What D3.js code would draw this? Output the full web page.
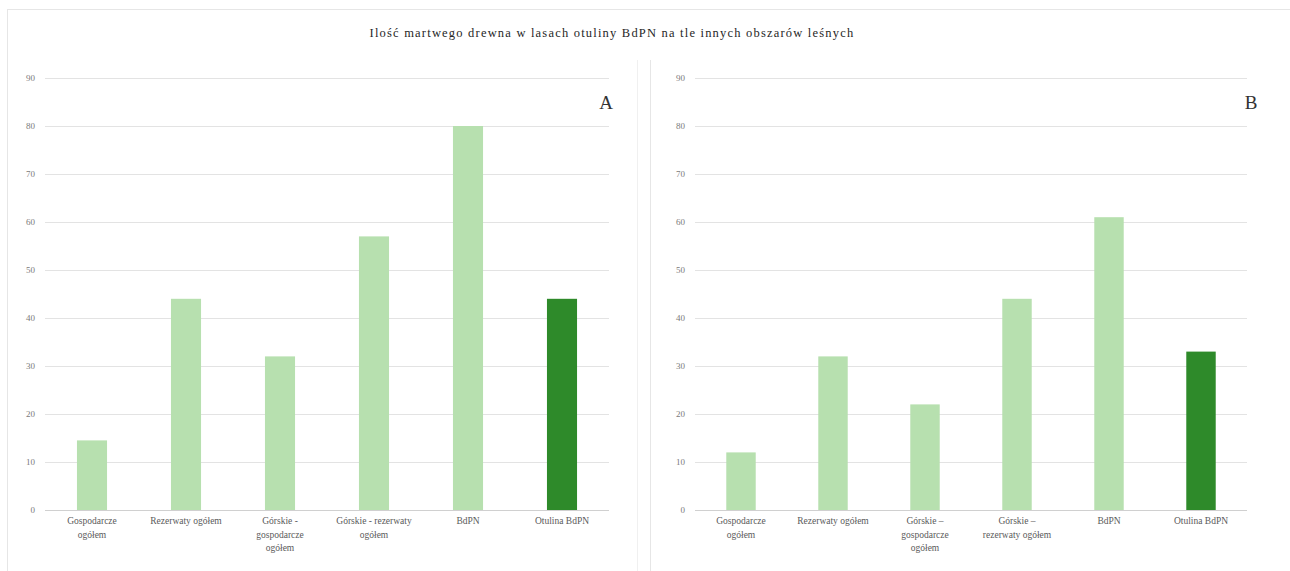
<!DOCTYPE html>
<html><head><meta charset="utf-8">
<script src="https://cdn.jsdelivr.net/npm/d3@7"></script>
<style>body{margin:0;background:#fff}svg{display:block}</style>
</head><body>
<svg id="c" width="1290" height="571"></svg>
<script>
const title = "Ilość martwego drewna  w lasach otuliny BdPN na tle innych  obszarów leśnych";
const categoriesA = [["Gospodarcze","ogółem"],["Rezerwaty ogółem"],["Górskie -","gospodarcze","ogółem"],["Górskie - rezerwaty","ogółem"],["BdPN"],["Otulina BdPN"]];
const categoriesB = [["Gospodarcze","ogółem"],["Rezerwaty ogółem"],["Górskie –","gospodarcze","ogółem"],["Górskie –","rezerwaty ogółem"],["BdPN"],["Otulina BdPN"]];
const valuesA = [14.5, 44, 32, 57, 80, 44];
const valuesB = [12, 32, 22, 44, 61, 33];
const highlight = [false,false,false,false,false,true];
const yTicks = [0,10,20,30,40,50,60,70,80,90];

const svg = d3.select("#c");
// frame
svg.append("line").attr("x1",7).attr("x2",1290).attr("y1",9.5).attr("y2",9.5).attr("stroke","#e6e6e6");
svg.append("line").attr("x1",7.5).attr("x2",7.5).attr("y1",9).attr("y2",571).attr("stroke","#e6e6e6");
svg.append("line").attr("x1",637.5).attr("x2",637.5).attr("y1",60).attr("y2",571).attr("stroke","#f0f0f0");
svg.append("line").attr("x1",650.5).attr("x2",650.5).attr("y1",60).attr("y2",571).attr("stroke","#e6e6e6");

svg.append("text").attr("x",612).attr("y",37).attr("text-anchor","middle")
  .attr("font-family","Liberation Serif, serif").attr("font-size",12.5).attr("letter-spacing",1.2)
  .attr("fill","#262626").text(title);

function panel(cfg){
  const {x0,x1,labelX,cats,vals,letter,letterX} = cfg;
  const y = d3.scaleLinear().domain([0,90]).range([510,78]);
  const x = d3.scaleBand().domain(d3.range(cats.length)).range([x0,x1]).paddingInner(0.68).paddingOuter(0.34);
  const g = svg.append("g");
  const ax = g.append("g").attr("transform",`translate(${x0},0)`)
    .call(d3.axisLeft(y).tickValues(yTicks).tickSize(-(x1-x0)).tickPadding(labelX));
  ax.select(".domain").remove();
  ax.selectAll(".tick line").attr("stroke",d=>d===0?"#d0d0d0":"#e3e3e3");
  ax.selectAll(".tick text").attr("font-family","Liberation Serif, serif").attr("font-size",9).attr("fill","#7a7a7a");
  g.selectAll("rect.bar").data(vals).join("rect").attr("class","bar")
    .attr("x",(d,i)=>x(i)).attr("width",x.bandwidth())
    .attr("y",d=>y(d)).attr("height",d=>y(0)-y(d))
    .attr("fill",(d,i)=>highlight[i]?"#2e8a2a":"#b7e0af");
  const lab = g.selectAll("text.cat").data(cats).join("text").attr("class","cat")
    .attr("x",(d,i)=>x(i)+x.bandwidth()/2).attr("y",524).attr("text-anchor","middle")
    .attr("font-family","Liberation Serif, serif").attr("font-size",9.5).attr("fill","#5a5a5a");
  lab.selectAll("tspan").data(d=>d).join("tspan")
    .attr("x",function(){return this.parentNode.getAttribute("x");})
    .attr("dy",(d,i)=>i===0?0:13.5).text(d=>d);
  g.append("text").attr("x",letterX).attr("y",109).attr("text-anchor","middle")
    .attr("font-family","Liberation Serif, serif").attr("font-size",19).attr("fill","#333").text(letter);
}
panel({x0:45,x1:609,labelX:10,cats:categoriesA,vals:valuesA,letter:"A",letterX:606});
panel({x0:695,x1:1247,labelX:10,cats:categoriesB,vals:valuesB,letter:"B",letterX:1251});
</script>
</body></html>
